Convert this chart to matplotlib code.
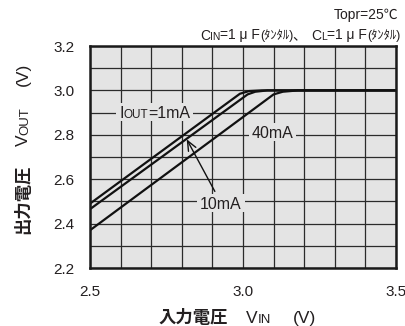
import matplotlib
matplotlib.use("Agg")
import matplotlib.pyplot as plt
import numpy as np
from matplotlib.font_manager import FontProperties
from matplotlib.transforms import IdentityTransform
from matplotlib.patches import Rectangle

# ---- data -------------------------------------------------------------
vin_1ma = [2.5, 2.99, 3.02, 3.06, 3.5]
vout_1ma = [2.49, 2.985, 2.997, 3.0, 3.0]

vin_10ma = [2.5, 3.015, 3.04, 3.08, 3.5]
vout_10ma = [2.465, 2.982, 2.994, 3.0, 3.0]

vin_40ma = [2.5, 3.1, 3.13, 3.18, 3.5]
vout_40ma = [2.37, 2.982, 2.994, 3.0, 3.0]

x_ticks = [2.5, 3.0, 3.5]
x_tick_labels = ["2.5", "3.0", "3.5"]
y_ticks = [2.2, 2.4, 2.6, 2.8, 3.0, 3.2]
y_tick_labels = ["2.2", "2.4", "2.6", "2.8", "3.0", "3.2"]

# ---- style ------------------------------------------------------------
FAM = ["Liberation Sans", "Noto Sans CJK JP"]
TXT = "#231f20"
BG = "#e4e4e4"
W, H = 406, 326

plt.rcParams["font.family"] = FAM

fig = plt.figure(figsize=(W / 100, H / 100), dpi=100)
renderer = fig.canvas.get_renderer()

ax = fig.add_axes([90 / W, (H - 268) / H, 306 / W, 222 / H])
ax.set_facecolor(BG)
ax.set_xlim(2.5, 3.5)
ax.set_ylim(2.2, 3.2)
ax.set_xticks(x_ticks)
ax.set_xticklabels(x_tick_labels)
ax.set_yticks(y_ticks)
ax.set_yticklabels(y_tick_labels)
ax.set_xticks(np.arange(2.5, 3.51, 0.1), minor=True)
ax.set_yticks(np.arange(2.2, 3.21, 0.1), minor=True)
ax.tick_params(which="both", length=0, labelsize=11, labelcolor=TXT)
ax.tick_params(axis="x", pad=12.5)
ax.tick_params(axis="y", pad=11)
ax.set_axisbelow(True)
ax.grid(which="both", color="#2b2b2b", linewidth=0.9)
for sp in ax.spines.values():
    sp.set_linewidth(1.8)
    sp.set_color("#1a1a1a")

for xs, ys in [(vin_1ma, vout_1ma), (vin_10ma, vout_10ma), (vin_40ma, vout_40ma)]:
    ax.plot(xs, ys, color="#111111", linewidth=1.6, solid_joinstyle="round")


# ---- mixed-size text helpers -----------------------------------------
def text_width(s, size, weight):
    fp = FontProperties(family=FAM, size=size, weight=weight)
    w1 = renderer.get_text_width_height_descent("x" + s + "x", fp, ismath=False)[0]
    w0 = renderer.get_text_width_height_descent("xx", fp, ismath=False)[0]
    return w1 - w0


def rich(pieces, x, y, ha="left", vertical=False, bg=None):
    """Draw a run of (text, size, weight) pieces on one baseline.
    x, y are pixels from the top-left corner; y is the baseline for
    horizontal runs, x is the baseline for vertical runs."""
    widths = [text_width(s, sz, wt) for s, sz, wt in pieces]
    total = sum(widths)
    along = x if not vertical else H - y
    start = along - {"left": 0, "center": total / 2, "right": total}[ha]
    if bg is not None and not vertical:
        big = max(sz for _, sz, _ in pieces)
        fp = FontProperties(family=FAM, size=big)
        _, h, d = renderer.get_text_width_height_descent("A", fp, ismath=False)
        pad = 3
        fig.patches.append(Rectangle((start - pad, H - y - d - pad),
                                     total + 2 * pad, h + 2 * pad,
                                     transform=IdentityTransform(),
                                     facecolor=bg, edgecolor="none",
                                     zorder=3))
    for (s, sz, wt), w in zip(pieces, widths):
        if vertical:
            pos = (x, start)
            rot = 90
        else:
            pos = (start, H - y)
            rot = 0
        fig.text(pos[0], pos[1], s, transform=IdentityTransform(),
                 fontsize=sz, fontweight=wt, family=FAM, color=TXT,
                 ha="left", va="baseline", rotation=rot,
                 rotation_mode="anchor", zorder=4)
        start += w


def data_px(xd, yd):
    px, py = ax.transData.transform((xd, yd))
    return px, H - py


# ---- conditions -------------------------------------------------------
rich([("Topr=25℃", 10, "normal")], 398, 19.5, ha="right")
rich([("C", 10, "normal"), ("IN", 7.5, "normal"), ("=1 μ F", 10, "normal"),
      ("(ﾀﾝﾀﾙ)", 9, "normal"), ("、 ", 10, "normal"),
      ("C", 10, "normal"), ("L", 7.5, "normal"), ("=1 μ F", 10, "normal"),
      ("(ﾀﾝﾀﾙ)", 9, "normal")], 400, 39.5, ha="right")

# ---- axis titles ------------------------------------------------------
rich([("入力電圧", 12.5, "bold"), ("　 ", 10, "normal"), ("V", 12.5, "normal"),
      ("IN", 9.5, "normal"), ("　  ", 10, "normal"), ("(V)", 12.5, "normal")],
     237.5, 323, ha="center")
rich([("出力電圧", 12.5, "bold"), ("　 ", 10, "normal"), ("V", 12.5, "normal"),
      ("OUT", 9.5, "normal"), ("　  ", 10, "normal"), ("(V)", 12.5, "normal")],
     28, 148, ha="center", vertical=True)

# ---- curve labels -----------------------------------------------------
px, py = data_px(2.712, 2.9)
rich([("I", 11.5, "normal"), ("OUT", 8.5, "normal"), ("=1mA", 11.5, "normal")],
     px, py + 5.5, ha="center", bg=BG)
px, py = data_px(3.096, 2.812)
rich([("40mA", 11.5, "normal")], px, py + 5.5, ha="center", bg=BG)
px, py = data_px(2.928, 2.49)
rich([("10mA", 11.5, "normal")], px, py + 5.5, ha="center", bg=BG)

ax.annotate("", xy=(2.816, 2.78), xytext=(2.908, 2.545),
            arrowprops=dict(arrowstyle="->,head_length=0.7,head_width=0.3",
                            color="#111111", linewidth=1.0,
                            shrinkA=0, shrinkB=0))

fig.savefig("out.png", dpi=100)
